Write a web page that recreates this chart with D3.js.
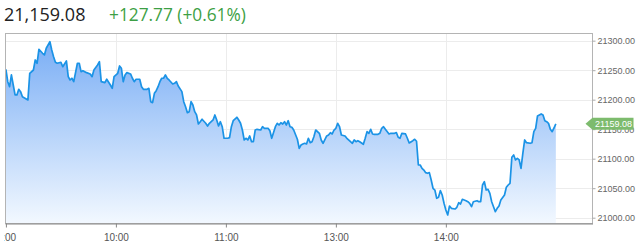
<!DOCTYPE html>
<html>
<head>
<meta charset="utf-8">
<script src="https://cdn.jsdelivr.net/npm/d3@7"></script>
<style>
  body { margin: 0; background: #fff; }
  svg { display: block; }
</style>
</head>
<body>
<svg id="chart" width="640" height="248"></svg>
<script>
// session minutes from 9:00 (lunch 11:30-12:30 removed)
const minutes = [
  0, 1, 2, 3, 4, 5, 6, 7, 8, 9, 12, 13, 15, 16, 17, 18, 20, 21, 22, 24,
  25, 26, 27, 28, 30, 31, 33, 34, 35, 36, 37, 39, 40, 41, 42, 44, 46, 47, 48, 50,
  51, 52, 54, 55, 57, 58, 59, 61, 62, 63, 64, 65, 66, 68, 69, 70, 71, 73, 74, 75,
  77, 78, 79, 80, 81, 82, 83, 84, 85, 86, 87, 88, 89, 91, 92, 93, 94, 96, 97, 98,
  99, 100, 101, 102, 103, 104, 105, 106, 107, 109, 110, 111, 113, 114, 115, 116, 117, 118, 119, 121,
  122, 123, 124, 126, 127, 128, 129, 130, 131, 132, 133, 134, 135, 136, 137, 139, 140, 141, 143, 144,
  145, 147, 148, 149, 150, 151, 152, 153, 154, 155, 156, 157, 159, 160, 161, 162, 163, 164, 165, 166,
  167, 168, 169, 171, 172, 173, 175, 176, 177, 178, 179, 180, 181, 182, 183, 185, 186, 188, 189, 190,
  191, 192, 193, 195, 196, 197, 198, 199, 200, 201, 203, 204, 205, 206, 207, 209, 210, 212, 213, 214,
  215, 216, 218, 219, 220, 222, 223, 224, 225, 226, 227, 228, 229, 230, 231, 232, 233, 234, 235, 236,
  237, 238, 239, 240, 241, 242, 243, 245, 246, 247, 248, 249, 251, 252, 253, 254, 255, 257, 258, 259,
  260, 261, 262, 263, 264, 265, 267, 268, 269, 270, 272, 273, 274, 275, 276, 277, 278, 279, 280, 281,
  282, 283, 284, 286, 287, 288, 289, 290, 291, 292, 293, 294, 295, 296, 297, 298, 299, 300
];

const prices = [
  21251.5, 21230.5, 21222.0, 21241.9, 21224.9, 21208.0, 21208.0, 21217.6, 21213.6, 21205.0, 21199.5, 21244.7, 21250.3, 21267.3, 21261.7, 21285.4, 21278.6, 21275.8, 21287.1, 21298.3,
  21284.2, 21272.9, 21263.4, 21261.7, 21263.4, 21255.9, 21265.6, 21239.0, 21233.4, 21236.3, 21230.5, 21261.7, 21261.7, 21247.5, 21249.2, 21245.8, 21243.6, 21239.0, 21250.3, 21258.8,
  21264.4, 21230.5, 21228.8, 21234.6, 21224.9, 21219.3, 21239.0, 21244.7, 21257.1, 21253.2, 21230.5, 21241.9, 21245.8, 21243.6, 21236.3, 21230.5, 21234.6, 21234.6, 21222.0, 21217.6,
  21217.6, 21219.3, 21196.6, 21194.9, 21210.8, 21215.3, 21222.0, 21230.5, 21236.3, 21236.3, 21241.9, 21236.3, 21233.4, 21226.6, 21227.8, 21230.5, 21223.2, 21213.6, 21196.6, 21188.1,
  21178.0, 21179.7, 21196.6, 21191.0, 21179.7, 21174.1, 21158.8, 21162.7, 21166.8, 21160.0, 21155.4, 21160.0, 21165.6, 21174.1, 21165.6, 21155.4, 21162.7, 21154.2, 21134.6, 21134.6,
  21135.6, 21154.2, 21164.4, 21170.2, 21165.6, 21160.0, 21148.6, 21131.7, 21134.6, 21131.7, 21138.5, 21128.8, 21128.8, 21148.6, 21149.8, 21148.6, 21154.2, 21151.5, 21151.5, 21147.4,
  21134.6, 21154.2, 21160.0, 21157.1, 21161.0, 21158.8, 21162.7, 21157.1, 21164.4, 21154.2, 21153.2, 21148.6, 21132.9, 21117.6, 21123.2, 21124.9, 21126.1, 21124.9, 21134.6, 21127.1,
  21128.8, 21137.3, 21148.6, 21143.0, 21131.7, 21126.1, 21138.5, 21140.2, 21144.1, 21141.9, 21148.6, 21151.5, 21160.0, 21154.2, 21140.2, 21138.5, 21134.6, 21128.8, 21126.1, 21131.7,
  21128.8, 21130.5, 21128.8, 21124.4, 21134.6, 21145.8, 21143.0, 21149.8, 21141.9, 21141.3, 21141.3, 21143.0, 21151.5, 21154.2, 21149.8, 21141.9, 21143.0, 21143.0, 21144.1, 21136.3,
  21134.6, 21143.0, 21141.9, 21134.6, 21126.6, 21130.5, 21132.9, 21129.5, 21089.3, 21089.3, 21083.7, 21080.8, 21076.3, 21075.2, 21076.3, 21063.9, 21049.8, 21046.9, 21032.9, 21034.6,
  21045.8, 21038.5, 21024.4, 21013.0, 21004.6, 21019.8, 21015.9, 21014.7, 21017.6, 21025.4, 21023.2, 21031.2, 21028.8, 21027.1, 21024.4, 21018.6, 21027.1, 21028.8, 21027.1, 21027.1,
  21055.4, 21061.0, 21046.9, 21048.1, 21041.3, 21027.1, 21010.2, 21015.9, 21019.8, 21030.0, 21038.5, 21051.5, 21055.4, 21058.3, 21102.4, 21106.3, 21097.8, 21100.7, 21097.8, 21083.7,
  21109.1, 21131.7, 21127.1, 21126.1, 21127.1, 21145.8, 21151.5, 21172.4, 21174.1, 21175.8, 21174.1, 21164.4, 21162.7, 21160.0, 21149.8, 21145.8, 21152.0, 21159.08
];

const xTickMinutes = [0, 60, 120, 180, 240];
const xTickLabels = ['9:00', '10:00', '11:00', '13:00', '14:00'];
const yTicks = [21000, 21050, 21100, 21150, 21200, 21250, 21300];

const lastPrice = 21159.08;
const change = '+127.77 (+0.61%)';

const data = minutes.map((m, i) => ({ m: m, v: prices[i] }));

const svg = d3.select('#chart');

const plotLeft = 5, plotRight = 592.5, plotTop = 33, plotBottom = 223;

const xScale = d3.scaleLinear()
                  .domain([-0.5, 320])
                  .range([plotLeft, plotRight]);

const yScale = d3.scaleLinear()
                  .domain([20991, 21313])
                  .range([plotBottom, plotTop]);

// header
svg.append('text')
    .attr('x', 4)
    .attr('y', 21)
    .attr('font-family', 'Open Sans, sans-serif')
    .attr('font-size', 18)
    .attr('fill', '#222')
    .text(d3.format(',.2f')(lastPrice));

svg.append('text')
    .attr('x', 109)
    .attr('y', 21)
    .attr('font-family', 'Open Sans, sans-serif')
    .attr('font-size', 17.3)
    .attr('fill', '#3d9f45')
    .text(change);

const defs = svg.append('defs');

// gradient
const grad = defs.append('linearGradient')
    .attr('id', 'fillGrad')
    .attr('x1', 0).attr('y1', 0).attr('x2', 0).attr('y2', 1);
grad.append('stop').attr('offset', '0%').attr('stop-color', '#7aaef5');
grad.append('stop').attr('offset', '100%').attr('stop-color', '#f2f8ff');

// the chart container cuts the first time label at its left edge
defs.append('clipPath')
    .attr('id', 'axisClip')
  .append('rect')
    .attr('x', plotLeft - 1).attr('y', 0)
    .attr('width', 640).attr('height', 248);

// grid
svg.append('g')
  .selectAll('line')
  .data(yTicks)
  .join('line')
    .attr('x1', plotLeft).attr('x2', plotRight)
    .attr('y1', d => Math.round(yScale(d)) + 0.5)
    .attr('y2', d => Math.round(yScale(d)) + 0.5)
    .attr('stroke', '#ececec');

svg.append('g')
  .selectAll('line')
  .data(xTickMinutes.slice(1))
  .join('line')
    .attr('x1', d => Math.round(xScale(d)) + 0.5)
    .attr('x2', d => Math.round(xScale(d)) + 0.5)
    .attr('y1', plotTop).attr('y2', plotBottom)
    .attr('stroke', '#ececec');

// area + line
const area = d3.area()
                .x(d => xScale(d.m))
                .y0(plotBottom)
                .y1(d => yScale(d.v));

const line = d3.line()
                .x(d => xScale(d.m))
                .y(d => yScale(d.v));

svg.append('path')
    .datum(data)
    .attr('fill', 'url(#fillGrad)')
    .attr('d', area);

svg.append('path')
    .datum(data)
    .attr('fill', 'none')
    .attr('stroke', '#1b93e6')
    .attr('stroke-width', 1.7)
    .attr('stroke-linejoin', 'round')
    .attr('d', line);

// frame
svg.append('rect')
    .attr('x', plotLeft + 0.5)
    .attr('y', plotTop + 0.5)
    .attr('width', plotRight - plotLeft - 0.5)
    .attr('height', plotBottom - plotTop)
    .attr('fill', 'none')
    .attr('stroke', '#b4b4b4');

// axes
const xAxis = d3.axisBottom(xScale)
                .tickValues(xTickMinutes)
                .tickFormat((d, i) => xTickLabels[i])
                .tickSize(4)
                .tickSizeOuter(0);

const gx = svg.append('g')
    .attr('clip-path', 'url(#axisClip)')
  .append('g')
    .attr('transform', `translate(0,${plotBottom + 0.5})`)
    .call(xAxis);
gx.select('.domain').attr('stroke', '#888');
gx.selectAll('.tick line').attr('stroke', '#888');
gx.selectAll('.tick text')
    .attr('fill', '#555')
    .attr('font-family', 'Liberation Sans, Arial, sans-serif')
    .attr('font-size', 10)
    .attr('dy', '1em');

const yAxis = d3.axisRight(yScale)
                .tickValues(yTicks)
                .tickFormat(d3.format('.2f'))
                .tickSize(3)
                .tickSizeOuter(0);

const gy = svg.append('g')
    .attr('transform', `translate(${plotRight},0)`)
    .call(yAxis);
gy.select('.domain').remove();
gy.selectAll('.tick line').attr('stroke', '#aaa');
gy.selectAll('.tick text')
    .attr('fill', '#666')
    .attr('font-family', 'Liberation Sans, Arial, sans-serif')
    .attr('font-size', 9)
    .attr('x', 5);

// last value tag
const ty = yScale(lastPrice);
const tag = svg.append('g');
tag.append('path')
    .attr('d', `M${plotRight - 7},${ty} L${plotRight},${ty - 6} L${plotRight + 41},${ty - 6} L${plotRight + 41},${ty + 6} L${plotRight},${ty + 6} Z`)
    .attr('fill', '#7dbb6d');
tag.append('text')
    .attr('x', plotRight + 21)
    .attr('y', ty)
    .attr('dy', '0.35em')
    .attr('text-anchor', 'middle')
    .attr('font-family', 'Liberation Sans, Arial, sans-serif')
    .attr('font-size', 9)
    .attr('fill', '#fff')
    .text(lastPrice.toFixed(2));
</script>
</body>
</html>
